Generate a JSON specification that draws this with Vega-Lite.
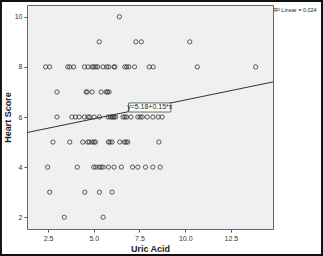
{
  "$schema": "https://vega.github.io/schema/vega-lite/v6.json",
  "width": 246,
  "height": 224,
  "autosize": {"type": "none"},
  "padding": {"left": 27, "top": 5, "right": 50, "bottom": 27},
  "background": "white",
  "config": {
    "font": "Liberation Sans",
    "view": {"fill": "#f0f0f0", "stroke": "#666666", "strokeWidth": 1}
  },
  "datasets": {
    "pts": [
      {"uric": 6.4, "heart": 10},
      {"uric": 5.3, "heart": 9}, {"uric": 7.3, "heart": 9}, {"uric": 7.6, "heart": 9}, {"uric": 10.25, "heart": 9},
      {"uric": 2.37, "heart": 8}, {"uric": 2.59, "heart": 8}, {"uric": 3.58, "heart": 8}, {"uric": 3.69, "heart": 8}, {"uric": 3.9, "heart": 8},
      {"uric": 4.49, "heart": 8}, {"uric": 4.69, "heart": 8}, {"uric": 4.91, "heart": 8}, {"uric": 5.0, "heart": 8}, {"uric": 5.11, "heart": 8},
      {"uric": 5.22, "heart": 8}, {"uric": 5.51, "heart": 8}, {"uric": 5.71, "heart": 8}, {"uric": 5.82, "heart": 8}, {"uric": 6.11, "heart": 8},
      {"uric": 6.15, "heart": 8}, {"uric": 6.7, "heart": 8}, {"uric": 6.8, "heart": 8}, {"uric": 6.92, "heart": 8}, {"uric": 7.23, "heart": 8},
      {"uric": 8.03, "heart": 8}, {"uric": 8.25, "heart": 8}, {"uric": 10.66, "heart": 8}, {"uric": 13.85, "heart": 8},
      {"uric": 2.99, "heart": 7}, {"uric": 4.58, "heart": 7}, {"uric": 4.64, "heart": 7}, {"uric": 4.91, "heart": 7}, {"uric": 5.4, "heart": 7},
      {"uric": 5.68, "heart": 7}, {"uric": 5.75, "heart": 7}, {"uric": 5.84, "heart": 7},
      {"uric": 2.99, "heart": 6}, {"uric": 3.8, "heart": 6}, {"uric": 4.0, "heart": 6}, {"uric": 4.2, "heart": 6}, {"uric": 4.49, "heart": 6},
      {"uric": 4.69, "heart": 6}, {"uric": 4.78, "heart": 6}, {"uric": 5.02, "heart": 6}, {"uric": 5.31, "heart": 6}, {"uric": 5.78, "heart": 6},
      {"uric": 5.91, "heart": 6}, {"uric": 6.0, "heart": 6}, {"uric": 6.06, "heart": 6}, {"uric": 6.11, "heart": 6}, {"uric": 6.2, "heart": 6},
      {"uric": 6.6, "heart": 6}, {"uric": 6.7, "heart": 6}, {"uric": 6.79, "heart": 6}, {"uric": 7.03, "heart": 6}, {"uric": 7.41, "heart": 6},
      {"uric": 7.54, "heart": 6}, {"uric": 7.65, "heart": 6}, {"uric": 7.92, "heart": 6}, {"uric": 8.23, "heart": 6}, {"uric": 8.52, "heart": 6},
      {"uric": 8.74, "heart": 6},
      {"uric": 2.77, "heart": 5}, {"uric": 3.69, "heart": 5}, {"uric": 4.4, "heart": 5}, {"uric": 4.67, "heart": 5}, {"uric": 4.76, "heart": 5},
      {"uric": 4.91, "heart": 5}, {"uric": 5.02, "heart": 5}, {"uric": 5.09, "heart": 5}, {"uric": 5.8, "heart": 5}, {"uric": 5.89, "heart": 5},
      {"uric": 6.0, "heart": 5}, {"uric": 6.42, "heart": 5}, {"uric": 6.68, "heart": 5}, {"uric": 6.77, "heart": 5}, {"uric": 6.86, "heart": 5},
      {"uric": 8.56, "heart": 5},
      {"uric": 2.48, "heart": 4}, {"uric": 4.1, "heart": 4}, {"uric": 5.0, "heart": 4}, {"uric": 5.11, "heart": 4}, {"uric": 5.29, "heart": 4},
      {"uric": 5.4, "heart": 4}, {"uric": 5.51, "heart": 4}, {"uric": 5.8, "heart": 4}, {"uric": 6.11, "heart": 4}, {"uric": 6.51, "heart": 4},
      {"uric": 7.12, "heart": 4}, {"uric": 7.41, "heart": 4}, {"uric": 7.83, "heart": 4}, {"uric": 8.23, "heart": 4}, {"uric": 8.63, "heart": 4},
      {"uric": 2.59, "heart": 3}, {"uric": 4.51, "heart": 3}, {"uric": 5.31, "heart": 3}, {"uric": 6.0, "heart": 3},
      {"uric": 3.39, "heart": 2}, {"uric": 5.51, "heart": 2}
    ],
    "fit": [
      {"uric": 1.35, "heart": 5.38},
      {"uric": 14.8, "heart": 7.40}
    ],
    "eq": [
      {"x1": 6.91, "x2": 9.21, "y1": 6.2, "y2": 6.56, "xc": 8.06, "yc": 6.38, "label": "y=5.18+0.15*x"}
    ],
    "r2": [
      {"uric": 14.8, "heart": 10.26, "label": "R² Linear = 0.024"}
    ]
  },
  "layer": [
    {
      "data": {"name": "pts"},
      "mark": {"type": "point", "shape": "circle", "filled": false, "size": 18, "stroke": "#333333", "strokeWidth": 0.8, "opacity": 1},
      "encoding": {
        "x": {
          "field": "uric", "type": "quantitative",
          "scale": {"domain": [1.35, 14.8], "nice": false, "zero": false},
          "axis": {
            "title": "Uric Acid", "titleFontSize": 9, "titleFontWeight": "bold", "titleColor": "#222222", "titlePadding": 3,
            "values": [2.5, 5, 7.5, 10, 12.5], "format": ".1f", "labelFontSize": 7, "labelColor": "#333333",
            "domain": false, "grid": false, "tickSize": 3, "tickColor": "#555555", "labelPadding": 2
          }
        },
        "y": {
          "field": "heart", "type": "quantitative",
          "scale": {"domain": [1.53, 10.47], "nice": false, "zero": false},
          "axis": {
            "title": "Heart Score", "titleFontSize": 9, "titleFontWeight": "bold", "titleColor": "#222222", "titlePadding": 2,
            "values": [2, 4, 6, 8, 10], "format": "d", "labelFontSize": 7, "labelColor": "#333333",
            "domain": false, "grid": false, "tickSize": 3, "tickColor": "#555555", "labelPadding": 2
          }
        }
      }
    },
    {
      "data": {"name": "fit"},
      "mark": {"type": "line", "color": "#333333", "strokeWidth": 1},
      "encoding": {
        "x": {"field": "uric", "type": "quantitative"},
        "y": {"field": "heart", "type": "quantitative"}
      }
    },
    {
      "data": {"name": "eq"},
      "mark": {"type": "rect", "fill": "white", "stroke": "#444444", "strokeWidth": 0.8},
      "encoding": {
        "x": {"field": "x1", "type": "quantitative"},
        "x2": {"field": "x2"},
        "y": {"field": "y1", "type": "quantitative"},
        "y2": {"field": "y2"}
      }
    },
    {
      "data": {"name": "eq"},
      "mark": {"type": "text", "fontSize": 7, "color": "#222222", "align": "center", "baseline": "middle"},
      "encoding": {
        "x": {"field": "xc", "type": "quantitative"},
        "y": {"field": "yc", "type": "quantitative"},
        "text": {"field": "label"}
      }
    },
    {
      "data": {"name": "r2"},
      "mark": {"type": "text", "fontSize": 5.5, "color": "#222222", "align": "left", "baseline": "middle", "dx": 1, "clip": false},
      "encoding": {
        "x": {"field": "uric", "type": "quantitative"},
        "y": {"field": "heart", "type": "quantitative"},
        "text": {"field": "label"}
      }
    },
    {
      "data": {"values": [{}]},
      "mark": {"type": "rect", "fill": null, "stroke": "#111111", "strokeWidth": 2, "clip": false},
      "encoding": {
        "x": {"datum": -0.075, "type": "quantitative"},
        "x2": {"datum": 17.48},
        "y": {"datum": 10.63, "type": "quantitative"},
        "y2": {"datum": 0.49}
      }
    }
  ]
}
